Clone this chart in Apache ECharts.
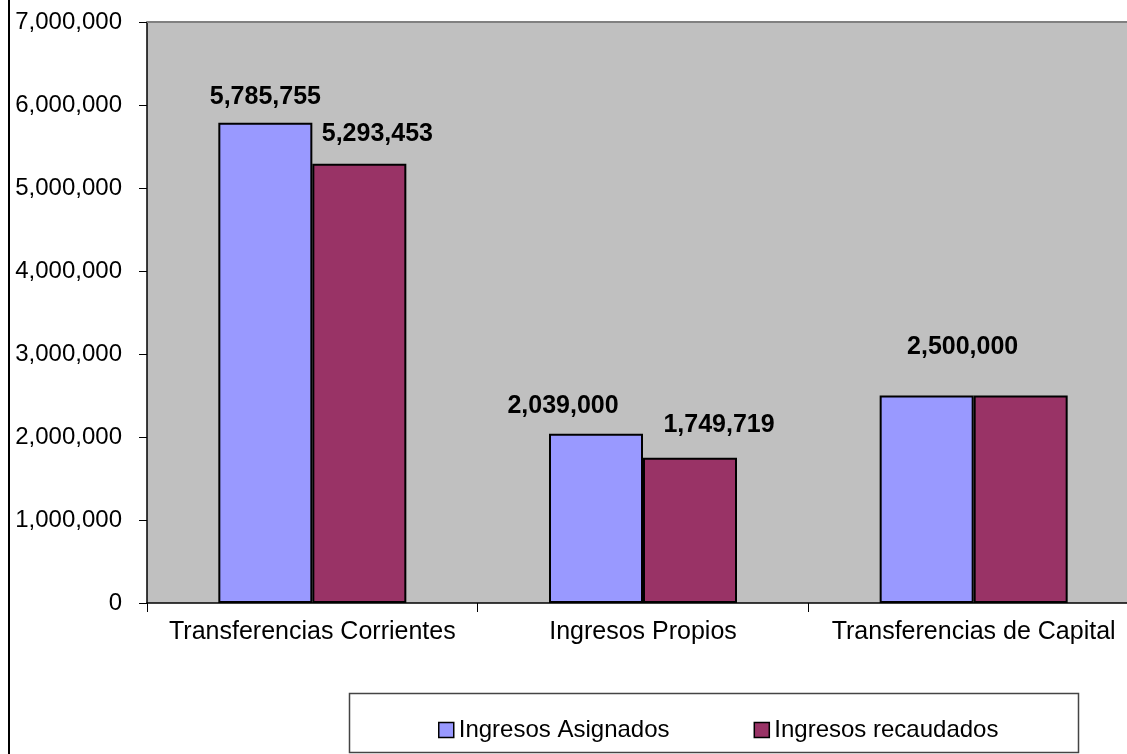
<!DOCTYPE html>
<html>
<head>
<meta charset="utf-8">
<script src="https://cdn.jsdelivr.net/npm/echarts@6/dist/echarts.min.js"></script>
<style>
html,body{margin:0;padding:0;background:#fff;overflow:hidden;}
#chart{width:1127px;height:754px;}
</style>
</head>
<body>
<div id="chart"></div>
<script>
const categories = ['Transferencias Corrientes', 'Ingresos Propios', 'Transferencias de Capital'];
const seriesNames = ['Ingresos Asignados', 'Ingresos recaudados'];
const asignados = [5785755, 2039000, 2500000];
const recaudados = [5293453, 1749719, 2500000];
const yTicks = [0, 1000000, 2000000, 3000000, 4000000, 5000000, 6000000, 7000000];

// label placement tweaks (style only)
const asignadosLabelOffset = [[0, -13], [-33, -15], [36, -36]];
const recaudadosLabelOffset = [[18, -17], [29, -20], null];

const fmt = v => Number(v).toLocaleString('en-US');
const FONT = '"Liberation Sans", Arial, sans-serif';

function buildData(values, offsets) {
  return values.map((v, i) => {
    const off = offsets[i];
    if (!off) return { value: v, label: { show: false } };
    return { value: v, label: { offset: off } };
  });
}

const chart = echarts.init(document.getElementById('chart'), null, { renderer: 'canvas' });
const labelCommon = {
  show: true,
  position: 'top',
  distance: 0,
  fontFamily: FONT,
  fontSize: 25,
  fontWeight: 'bold',
  color: '#000',
  formatter: p => fmt(p.value)
};

chart.setOption({
  animation: false,
  backgroundColor: '#fff',
  textStyle: { fontFamily: FONT },
  grid: {
    left: 147, top: 22, width: 992, height: 581,
    containLabel: false,
    outerBoundsMode: 'none',
    show: true, backgroundColor: '#C0C0C0', borderWidth: 0
  },
  legend: {
    data: seriesNames,
    left: 433,
    top: 713,
    itemWidth: 15,
    itemHeight: 15,
    itemGap: 84,
    icon: 'rect',
    textStyle: { fontFamily: FONT, fontSize: 24, color: '#000' },
    itemStyle: { borderColor: '#000', borderWidth: 1.5 }
  },
  xAxis: {
    type: 'category',
    data: categories,
    axisLine: { show: true, lineStyle: { color: '#000', width: 1.5 } },
    axisTick: { show: true, length: 9, lineStyle: { color: '#000' } },
    axisLabel: { fontFamily: FONT, fontSize: 25, color: '#000', margin: 17, interval: 0 },
    splitLine: { show: false }
  },
  yAxis: {
    type: 'value',
    min: yTicks[0],
    max: yTicks[yTicks.length - 1],
    interval: yTicks[1] - yTicks[0],
    axisLine: { show: true, lineStyle: { color: '#000', width: 1.5 } },
    axisTick: { show: true, length: 8, lineStyle: { color: '#000' } },
    axisLabel: { fontFamily: FONT, fontSize: 24, color: '#000', margin: 25, formatter: v => fmt(v) },
    splitLine: { show: false }
  },
  series: [
    {
      name: seriesNames[0],
      type: 'bar',
      barWidth: 94,
      barGap: '0%',
      data: buildData(asignados, asignadosLabelOffset),
      itemStyle: { color: '#9999FF', borderColor: '#000', borderWidth: 2 },
      label: labelCommon
    },
    {
      name: seriesNames[1],
      type: 'bar',
      barWidth: 94,
      barGap: '0%',
      data: buildData(recaudados, recaudadosLabelOffset),
      itemStyle: { color: '#993366', borderColor: '#000', borderWidth: 2 },
      label: labelCommon
    }
  ],
  graphic: [
    { type: 'line', shape: { x1: 9, y1: 0, x2: 9, y2: 754 }, style: { stroke: '#000', lineWidth: 2 }, z: 100 },
    { type: 'line', shape: { x1: 147, y1: 22, x2: 1127, y2: 22 }, style: { stroke: '#808080', lineWidth: 2 }, z: 100 },
    { type: 'rect', shape: { x: 349.5, y: 693.5, width: 729, height: 59 }, style: { fill: 'none', stroke: '#444', lineWidth: 1.5 }, z: 100 }
  ]
});
</script>
</body>
</html>
